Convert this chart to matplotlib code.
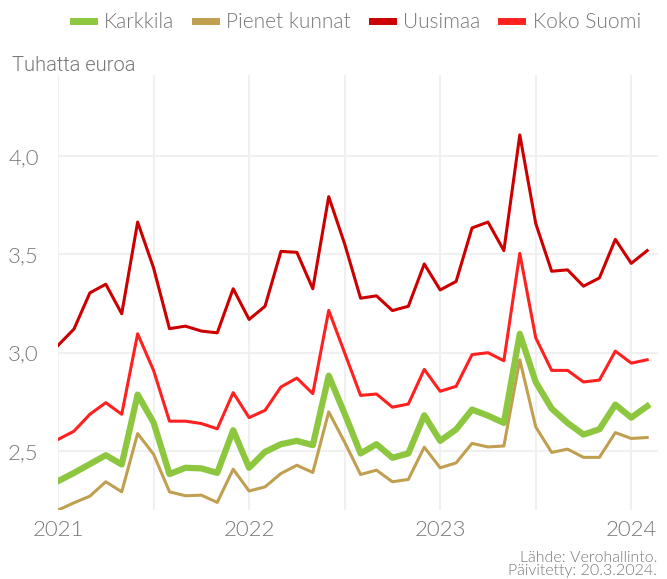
import matplotlib.pyplot as plt
from matplotlib.ticker import FuncFormatter

# kuukaudet 1/2021 - 2/2024
months = list(range(38))

karkkila = [2.347, 2.389, 2.434, 2.479, 2.432, 2.787, 2.645, 2.383, 2.415, 2.412,
            2.389, 2.606, 2.415, 2.496, 2.535, 2.552, 2.530, 2.883, 2.69, 2.488,
            2.535, 2.466, 2.488, 2.682, 2.552, 2.610, 2.711, 2.680, 2.643, 3.096,
            2.851, 2.716, 2.643, 2.584, 2.611, 2.736, 2.670, 2.728]
pienet = [2.200, 2.237, 2.271, 2.344, 2.293, 2.589, 2.484, 2.293, 2.273, 2.276,
          2.239, 2.408, 2.297, 2.318, 2.386, 2.428, 2.391, 2.699, 2.545, 2.381,
          2.403, 2.344, 2.356, 2.520, 2.415, 2.440, 2.539, 2.521, 2.526, 2.964,
          2.623, 2.493, 2.510, 2.468, 2.468, 2.594, 2.564, 2.569]
uusimaa = [3.037, 3.120, 3.304, 3.348, 3.198, 3.664, 3.431, 3.122, 3.135, 3.110,
           3.101, 3.325, 3.169, 3.236, 3.515, 3.510, 3.325, 3.793, 3.553, 3.277,
           3.289, 3.214, 3.236, 3.451, 3.319, 3.362, 3.634, 3.664, 3.519, 4.107,
           3.657, 3.414, 3.421, 3.338, 3.380, 3.576, 3.454, 3.519]
koko_suomi = [2.559, 2.601, 2.687, 2.746, 2.687, 3.096, 2.910, 2.652, 2.652, 2.640,
              2.613, 2.797, 2.670, 2.707, 2.826, 2.871, 2.792, 3.215, 2.999, 2.783,
              2.790, 2.723, 2.739, 2.915, 2.804, 2.829, 2.990, 3.000, 2.959, 3.505,
              3.076, 2.910, 2.910, 2.851, 2.861, 3.008, 2.947, 2.964]

year_ticks = [0, 12, 24, 36]
year_labels = ["2021", "2022", "2023", "2024"]
half_ticks = [6, 18, 30]

plt.rcParams['font.family'] = ['Lato', 'DejaVu Sans']
plt.rcParams['font.weight'] = 300
grey = "#777777"

fig = plt.figure(figsize=(6.67, 5.79), dpi=100)
ax = fig.add_axes([0.087, 0.119, 0.9, 0.751])

ax.plot(months, karkkila, color="#8dc63f", lw=4.5, label="Karkkila", zorder=4)
ax.plot(months, pienet, color="#c0a050", lw=2.2, label="Pienet kunnat", zorder=3)
ax.plot(months, uusimaa, color="#cc0000", lw=2.2, label="Uusimaa", zorder=3)
ax.plot(months, koko_suomi, color="#ff2020", lw=2.2, label="Koko Suomi", zorder=3)

ax.set_xlim(0, 37.7)
ax.set_ylim(2.2, 4.41)
ax.set_xticks(year_ticks)
ax.set_xticklabels(year_labels)
ax.set_xticks(half_ticks, minor=True)
ax.set_yticks([2.5, 3.0, 3.5, 4.0])
ax.yaxis.set_major_formatter(FuncFormatter(lambda v, p: f"{v:.1f}".replace(".", ",")))

ax.grid(True, which="both", color="#f0f0f0", lw=1.5)
ax.set_axisbelow(True)
for s in ax.spines.values():
    s.set_visible(False)
ax.tick_params(which="both", length=0, labelsize=16, colors=grey, pad=7)
ax.tick_params(axis="y", pad=14)

leg = fig.legend(loc="upper center", bbox_to_anchor=(0.535, 1.012), ncol=4, frameon=False,
                 fontsize=15, handlelength=1.0, handletextpad=0.5, columnspacing=1.0)
for h in leg.get_lines():
    h.set_linewidth(5)
for t in leg.get_texts():
    t.set_color(grey)

fig.text(0.018, 0.878, "Tuhatta euroa", fontsize=14.5, color=grey, family="Roboto", weight=300)
fig.text(0.985, 0.001, "Lähde: Verohallinto.\nPäivitetty: 20.3.2024.", ha="right", va="bottom",
         fontsize=11.5, color=grey, linespacing=0.95)

plt.savefig("out.png")
